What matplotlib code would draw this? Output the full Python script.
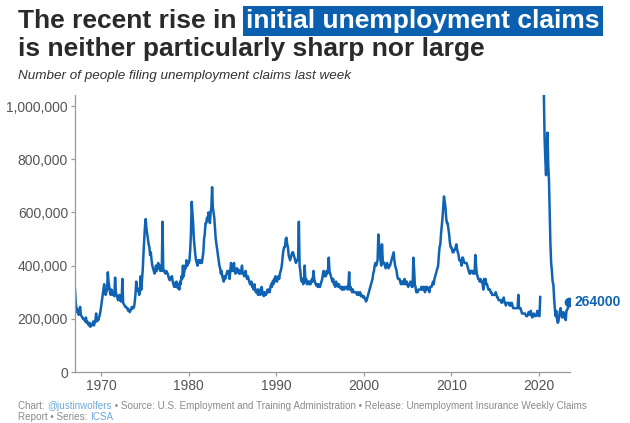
import numpy as np
import matplotlib
matplotlib.use("Agg")
import matplotlib.pyplot as plt

plt.rcParams['font.family'] = ['Liberation Sans', 'DejaVu Sans']

# Initial unemployment claims (thousands), monthly readings from Jan 1967
start_year = 1967
claims_k = [
    # 1967
    310, 260, 240, 225, 235, 215, 225, 245, 215, 210, 205, 200,
    # 1968
    200, 195, 190, 205, 185, 190, 180, 175, 185, 170, 180, 175,
    # 1969
    180, 190, 175, 185, 195, 220, 190, 200, 195, 205, 215, 230,
    # 1970
    250, 270, 290, 310, 330, 300, 290, 300, 310, 375, 340, 320,
    # 1971
    300, 290, 310, 300, 290, 300, 285, 355, 300, 290, 280, 270,
    # 1972
    280, 290, 270, 265, 275, 350, 260, 255, 250, 245, 245, 240,
    # 1973
    240, 230, 235, 225, 230, 235, 245, 240, 240, 245, 265, 295,
    # 1974
    340, 320, 305, 310, 290, 300, 360, 310, 350, 390, 450, 500,
    # 1975
    550, 575, 540, 520, 500, 480, 470, 440, 450, 420, 400, 390,
    # 1976
    380, 370, 375, 400, 380, 390, 410, 400, 390, 380, 400, 380,
    # 1977
    565, 390, 380, 375, 370, 380, 375, 370, 360, 350, 345, 355,
    # 1978
    350, 360, 340, 330, 320, 335, 320, 340, 330, 315, 330, 310,
    # 1979
    340, 330, 360, 350, 400, 360, 380, 400, 390, 420, 400, 410,
    # 1980
    410, 420, 460, 520, 640, 600, 560, 500, 470, 440, 420, 410,
    # 1981
    400, 420, 410, 420, 410, 420, 410, 430, 450, 500, 520, 560,
    # 1982
    560, 580, 570, 600, 590, 560, 600, 620, 695, 620, 600, 580,
    # 1983
    540, 500, 480, 460, 440, 420, 400, 390, 370, 380, 360, 350,
    # 1984
    340, 360, 350, 360, 370, 380, 370, 380, 350, 380, 410, 380,
    # 1985
    390, 380, 410, 380, 370, 380, 390, 375, 385, 370, 380, 370,
    # 1986
    380, 400, 370, 370, 360, 370, 380, 360, 350, 360, 350, 340,
    # 1987
    330, 330, 340, 320, 320, 310, 330, 310, 300, 300, 310, 290,
    # 1988
    310, 300, 290, 300, 320, 300, 290, 285, 300, 290, 290, 300,
    # 1989
    310, 300, 310, 300, 320, 330, 320, 340, 330, 350, 340, 360,
    # 1990
    350, 340, 350, 360, 350, 370, 380, 390, 410, 440, 460, 470,
    # 1991
    470, 500, 505, 480, 470, 440, 430, 420, 430, 440, 450, 450,
    # 1992
    440, 430, 420, 410, 420, 420, 430, 565, 400, 380, 350, 340,
    # 1993
    350, 330, 340, 400, 340, 350, 330, 340, 340, 330, 340, 330,
    # 1994
    340, 350, 340, 380, 350, 340, 330, 325, 330, 320, 330, 320,
    # 1995
    320, 330, 340, 350, 370, 380, 360, 370, 360, 380, 370, 380,
    # 1996
    430, 380, 370, 360, 350, 340, 350, 330, 330, 320, 340, 330,
    # 1997
    330, 320, 330, 320, 315, 320, 310, 320, 310, 310, 320, 315,
    # 1998
    320, 320, 310, 330, 375, 310, 320, 310, 300, 310, 300, 300,
    # 1999
    300, 300, 295, 290, 300, 290, 295, 300, 285, 290, 285, 280,
    # 2000
    285, 280, 275, 265, 270, 280, 290, 300, 310, 320, 330, 340,
    # 2001
    350, 370, 380, 400, 410, 400, 410, 420, 517, 480, 450, 420,
    # 2002
    400, 480, 420, 410, 410, 400, 390, 400, 410, 400, 390, 400,
    # 2003
    400, 410, 420, 430, 440, 450, 420, 400, 390, 380, 360, 350,
    # 2004
    350, 350, 340, 330, 340, 340, 330, 340, 350, 330, 330, 340,
    # 2005
    330, 320, 330, 330, 340, 330, 320, 320, 430, 390, 330, 320,
    # 2006
    300, 300, 300, 310, 310, 310, 310, 320, 310, 310, 320, 310,
    # 2007
    300, 320, 310, 320, 310, 310, 300, 320, 320, 320, 330, 340,
    # 2008
    330, 350, 360, 370, 380, 390, 400, 440, 470, 480, 520, 550,
    # 2009
    580, 620, 660, 640, 620, 580, 560, 560, 540, 520, 490, 470,
    # 2010
    470, 460, 450, 450, 460, 460, 470, 480, 460, 450, 440, 420,
    # 2011
    420, 420, 400, 430, 430, 420, 410, 410, 410, 410, 400, 390,
    # 2012
    380, 370, 370, 380, 380, 380, 370, 370, 370, 440, 400, 370,
    # 2013
    360, 350, 350, 340, 350, 340, 340, 330, 310, 350, 330, 350,
    # 2014
    330, 330, 320, 310, 310, 310, 300, 300, 290, 290, 290, 290,
    # 2015
    290, 300, 290, 280, 280, 270, 270, 270, 270, 260, 270, 270,
    # 2016
    280, 260, 260, 250, 260, 260, 260, 260, 250, 260, 250, 260,
    # 2017
    250, 240, 240, 240, 240, 240, 240, 240, 290, 240, 240, 240,
    # 2018
    230, 220, 220, 220, 220, 220, 215, 210, 210, 215, 225, 225,
    # 2019
    215, 230, 215, 205, 215, 220, 210, 215, 210, 215, 230, 215,
    # 2020 (weeks far above the chart's range are left out)
    210, 210, 282, None, None, None, None, 1040, 880, 800, 740, 850,
    # 2021
    900, 780, 720, 600, 480, 410, 380, 340, 330, 280, 240, 210,
    # 2022
    230, 200, 185, 190, 210, 230, 240, 220, 205, 215, 225, 210,
    # 2023
    200, 195, 230, 235, 240, 264,
]

latest_label = "264000"
x_ticks = [1970, 1980, 1990, 2000, 2010, 2020]
y_ticks = [0, 200000, 400000, 600000, 800000, 1000000]

vals = np.array([np.nan if v is None else v * 1000.0 for v in claims_k])
dates = start_year + np.arange(len(vals)) / 12.0

W, H = 630, 423
fig = plt.figure(figsize=(W / 100, H / 100), dpi=100)
ax = fig.add_axes([75 / W, 1 - 372 / H, (570 - 75) / W, (372 - 95) / H])

blue = '#0f63b2'
ax.plot(dates, vals, color=blue, lw=1.8, solid_joinstyle='round')
ax.plot(dates[-1], vals[-1], 'o', color=blue, ms=6)
ax.annotate(latest_label, (dates[-1], vals[-1]), xytext=(4, 0),
            textcoords='offset points', va='center', ha='left',
            color=blue, fontsize=10, fontweight='bold')

ax.set_xlim(1967.0, 2023.57)
ax.set_ylim(0, 1041500)
ax.set_xticks(x_ticks)
ax.set_xticklabels([str(t) for t in x_ticks])
ax.set_yticks(y_ticks)
ax.set_yticklabels([f"{t:,}" for t in y_ticks])
for s in ['top', 'right']:
    ax.spines[s].set_visible(False)
for s in ['left', 'bottom']:
    ax.spines[s].set_color('#9a9a9a')
    ax.spines[s].set_linewidth(0.9)
ax.tick_params(axis='both', colors='#9a9a9a', labelcolor='#555555',
               labelsize=10, length=3, width=0.9)
ax.tick_params(axis='x', pad=2)
ax.tick_params(axis='y', pad=2)

fig.canvas.draw()
renderer = fig.canvas.get_renderer()


def px(x, y):
    return x / W, 1 - y / H


title_color = '#2a2a2a'
t1 = fig.text(*px(18, 28), "The recent rise in ", fontsize=19, fontweight='bold',
              color=title_color, ha='left', va='baseline')
bb = t1.get_window_extent(renderer)
fig.text(bb.x1 / W + 0.004, 1 - 28 / H, "initial unemployment claims", fontsize=19,
         fontweight='bold', color='white', ha='left', va='baseline',
         bbox=dict(boxstyle='square,pad=0.12', fc='#0a5fae', ec='none'))
fig.text(*px(18, 56), "is neither particularly sharp nor large", fontsize=19,
         fontweight='bold', color=title_color, ha='left', va='baseline')
fig.text(*px(18, 79), "Number of people filing unemployment claims last week",
         fontsize=9.7, style='italic', color='#333333', ha='left', va='baseline')

# footer with coloured pieces
foot_gray = '#8a8a8a'
foot_blue = '#6fa8d8'
pieces1 = [("Chart: ", foot_gray), ("@justinwolfers", foot_blue),
           (" \u2022 Source: U.S. Employment and Training Administration \u2022 Release: Unemployment Insurance Weekly Claims", foot_gray)]
pieces2 = [("Report \u2022 Series: ", foot_gray), ("ICSA", foot_blue)]
for pieces, ybase in [(pieces1, 409), (pieces2, 420)]:
    xcur = 18
    for txt, col in pieces:
        t = fig.text(xcur / W, 1 - ybase / H, txt, fontsize=7.1, color=col,
                     ha='left', va='baseline')
        b = t.get_window_extent(renderer)
        xcur = b.x1

fig.savefig('out.png', dpi=100)
